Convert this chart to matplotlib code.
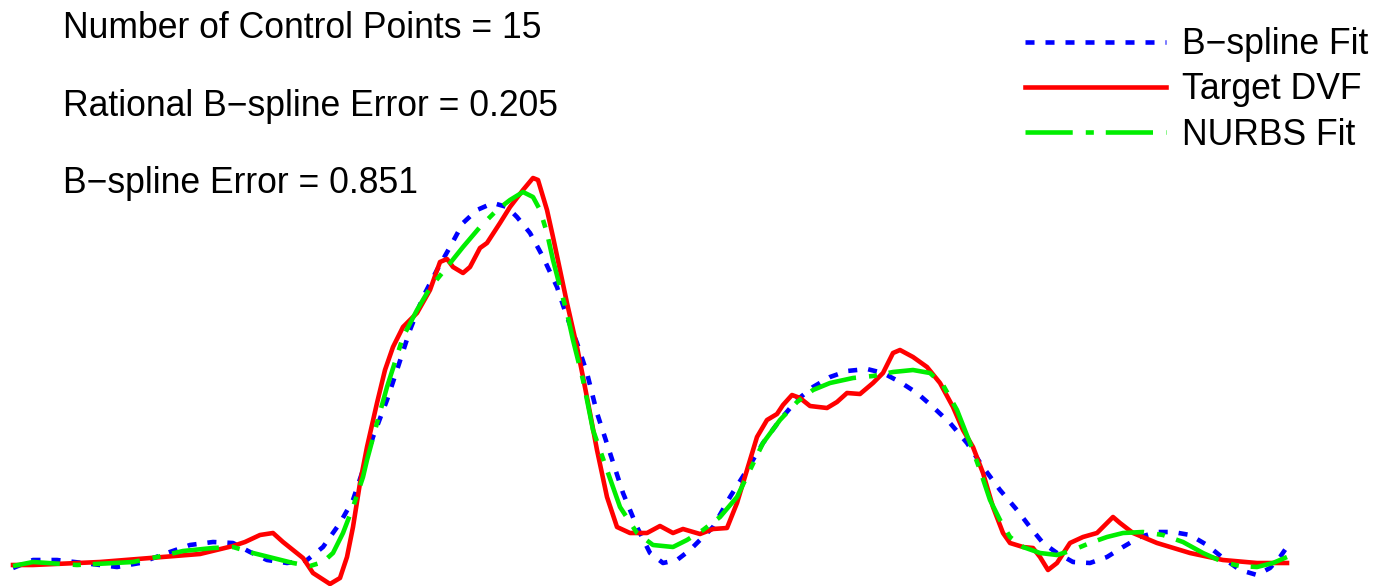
import numpy as np
import matplotlib.pyplot as plt

plt.rcParams['font.family'] = ['Liberation Sans', 'DejaVu Sans']
plt.rcParams['lines.scale_dashes'] = False

# Profile position and displacement for the target field and the two fits
x_target = [0.0, 2.0, 8.7, 18.7, 22.0, 23.2, 24.7, 26.0, 27.0, 28.0, 29.0, 30.0, 31.7, 32.7,
            33.4, 34.0, 34.7, 35.4, 36.4, 37.2, 38.0, 39.0, 40.4, 41.7, 42.7, 43.4, 44.0, 45.0,
            45.7, 46.7, 47.4, 48.7, 49.7, 51.0, 52.0, 52.5, 53.4, 54.0, 54.7, 55.4, 56.4, 57.0,
            57.7, 58.4, 59.4, 60.4, 61.7, 63.4, 64.7, 66.0, 67.0, 68.7, 70.0, 71.4, 72.4, 73.4,
            74.4, 75.4, 76.4, 77.0, 77.9, 78.7, 79.7, 81.4, 82.4, 83.4, 84.7, 86.0, 87.0, 88.0,
            88.7, 90.0, 91.4, 92.7, 94.0, 95.0, 96.0, 97.0, 98.0, 99.0, 99.7, 101.0, 102.0,
            102.7, 103.5, 104.4, 105.7, 107.0, 108.4, 109.4, 110.0, 110.7, 112.0, 114.4, 117.7,
            121.0, 124.4, 127.4]
y_target = [0.05, 0.05, 0.08, 0.16, 0.24, 0.28, 0.35, 0.37, 0.28, 0.20, 0.12, -0.03, -0.14, -0.08,
            0.13, 0.43, 0.87, 1.23, 1.67, 2.00, 2.23, 2.43, 2.57, 2.80, 3.08, 3.11, 3.03, 2.97,
            3.03, 3.22, 3.27, 3.47, 3.63, 3.80, 3.92, 3.90, 3.60, 3.33, 3.00, 2.67, 2.23, 1.93,
            1.57, 1.20, 0.73, 0.43, 0.37, 0.37, 0.44, 0.37, 0.41, 0.36, 0.41, 0.42, 0.67, 1.00,
            1.33, 1.50, 1.56, 1.65, 1.75, 1.72, 1.64, 1.62, 1.68, 1.77, 1.76, 1.87, 1.97, 2.17,
            2.20, 2.13, 2.03, 1.87, 1.63, 1.40, 1.23, 0.97, 0.63, 0.37, 0.27, 0.23, 0.22,
            0.13, 0.00, 0.07, 0.27, 0.33, 0.37, 0.47, 0.53, 0.47, 0.37, 0.27, 0.17,
            0.10, 0.07, 0.07]

x_bspline = [0.0, 2.0, 4.4, 7.0, 10.4, 12.7, 15.4, 17.7, 20.0, 22.0, 23.7, 25.4, 27.4, 29.4,
             31.0, 32.7, 34.0, 35.0, 36.0, 37.4, 38.4, 39.7, 41.0, 42.4, 43.7, 45.0, 46.4, 48.0,
             49.4, 50.4, 51.7, 53.0, 54.4, 55.4, 56.4, 57.4, 58.4, 59.7, 61.0, 62.4, 63.7, 65.0,
             66.4, 67.7, 68.7, 70.0, 71.7, 73.4, 75.0, 76.7, 78.4, 80.0, 81.7, 83.4, 85.4, 87.0,
             88.7, 90.4, 92.0, 93.7, 95.4, 97.0, 98.7, 100.4, 101.7, 103.0, 104.4, 106.0, 107.7,
             109.4, 111.0, 112.7, 114.4, 116.0, 117.7, 119.4, 121.0, 122.7, 124.4, 125.7, 126.7,
             127.4]
y_bspline = [0.02, 0.10, 0.10, 0.07, 0.03, 0.07, 0.17, 0.25, 0.28, 0.27, 0.18, 0.10, 0.07, 0.10,
             0.23, 0.47, 0.70, 1.00, 1.33, 1.70, 2.00, 2.40, 2.73, 3.00, 3.23, 3.47, 3.60, 3.67,
             3.63, 3.53, 3.37, 3.13, 2.83, 2.53, 2.27, 1.97, 1.57, 1.17, 0.77, 0.43, 0.17, 0.07,
             0.10, 0.20, 0.30, 0.43, 0.73, 1.00, 1.27, 1.50, 1.70, 1.83, 1.93, 1.99, 2.01, 1.97,
             1.88, 1.77, 1.63, 1.47, 1.27, 1.03, 0.80, 0.60, 0.43, 0.27, 0.17, 0.08, 0.07,
             0.13, 0.23, 0.33, 0.38, 0.38, 0.35, 0.25, 0.12, 0.00, -0.05, 0.02, 0.13,
             0.23]

x_nurbs = [0.0, 2.0, 6.4, 12.0, 14.4, 17.0, 20.0, 22.0, 24.0, 26.0, 28.0, 29.7, 31.0, 32.0,
           33.0, 34.0, 35.0, 35.4, 36.4, 37.4, 39.0, 40.4, 41.7, 43.4, 45.0, 46.7, 48.4, 49.7,
           51.0, 52.0, 52.7, 53.4, 54.0, 54.7, 55.4, 56.0, 57.0, 58.0, 59.4, 60.7, 62.4, 64.0,
           66.0, 67.4, 69.0, 70.7, 72.4, 73.7, 75.0, 76.7, 78.4, 80.0, 81.7, 84.0, 86.0, 88.0,
           90.0, 91.7, 93.0, 94.4, 95.7, 96.7, 97.7, 98.7, 99.7, 101.0, 102.7, 104.4, 106.0,
           107.7, 109.4, 111.0, 113.0, 115.0, 117.0, 119.0, 121.0, 122.7, 124.4, 126.0, 127.4]
y_nurbs = [0.04, 0.08, 0.05, 0.08, 0.13, 0.19, 0.22, 0.23, 0.17, 0.12, 0.07, 0.04, 0.08, 0.17,
           0.37, 0.63, 0.93, 1.10, 1.47, 1.83, 2.33, 2.60, 2.82, 3.03, 3.23, 3.43, 3.60, 3.70,
           3.78, 3.73, 3.60, 3.37, 3.10, 2.83, 2.57, 2.30, 1.90, 1.40, 1.00, 0.63, 0.37, 0.25,
           0.23, 0.30, 0.40, 0.53, 0.73, 1.00, 1.27, 1.50, 1.68, 1.80, 1.87, 1.92, 1.94, 1.98,
           2.00, 1.97, 1.85, 1.60, 1.27, 1.00, 0.70, 0.50, 0.33, 0.23, 0.17, 0.15, 0.20,
           0.27, 0.33, 0.37, 0.38, 0.35, 0.28, 0.17, 0.08, 0.04, 0.03, 0.07, 0.13]

n_ctrl = 15
err_nurbs = 0.205
err_bspline = 0.851

fig = plt.figure(figsize=(13.96, 5.86), dpi=100)
ax = fig.add_axes([0, 0, 1, 1])

lw = 3.3
ax.plot(x_bspline, y_bspline, color='#0000ff', lw=lw, dashes=(6.5, 7.9), label='B\u2212spline Fit')
ax.plot(x_target, y_target, color='#ff0000', lw=lw, solid_joinstyle='round', label='Target DVF')
ax.plot(x_nurbs, y_nurbs, color='#00ee00', lw=lw, dashes=(34, 9.4, 5.8, 8.6), label='NURBS Fit')

ax.set_xlim(-1.3, 138.3)
ax.set_ylim(-0.16, 5.70)
ax.axis('off')

fs = 25.6
fig.text(0.0451, 0.935, f'Number of Control Points = {n_ctrl}', fontsize=fs, va='baseline')
fig.text(0.0451, 0.802, f'Rational B\u2212spline Error = {err_nurbs:.3f}', fontsize=fs, va='baseline')
fig.text(0.0451, 0.6706, f'B\u2212spline Error = {err_bspline:.3f}', fontsize=fs, va='baseline')

ax.legend(loc='upper left', bbox_to_anchor=(0.7242, 0.978), bbox_transform=fig.transFigure,
          frameon=False, fontsize=fs, handlelength=3.95, handletextpad=0.45,
          labelspacing=0.29, borderaxespad=0)

fig.savefig('out.png', dpi=100)
